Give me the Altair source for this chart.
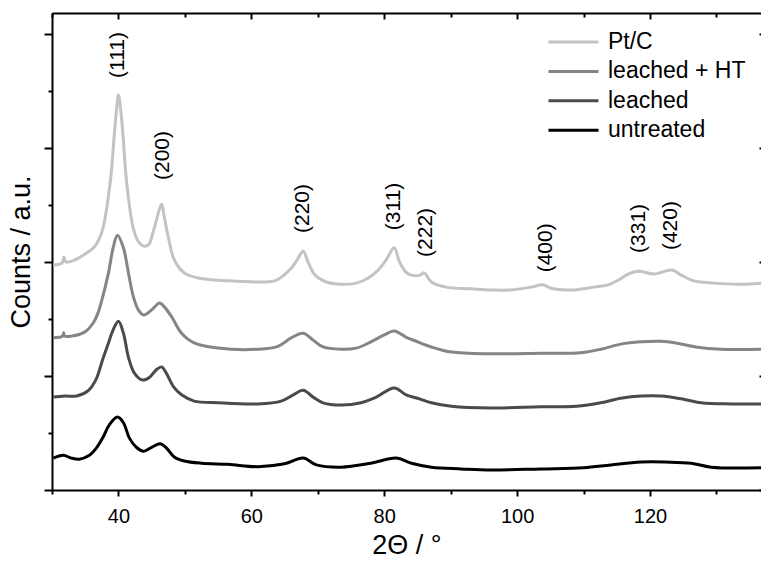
import altair as alt
import pandas as pd

# ---------------- data ----------------
series_names = ["Pt/C", "leached + HT", "leached", "untreated"]
series_colors = ["#c3c3c3", "#858585", "#4a4a4a", "#000000"]

ptc_x = [30.2, 31.5, 31.8, 32.1, 33.5, 34.4, 35.5, 36.4, 37.0, 37.7, 38.8, 39.35, 39.65, 40.0,
         40.4, 40.7, 41.2, 42.2, 43.0, 43.8, 44.5, 45.3, 46.0, 46.5, 46.9, 47.5, 48.4, 49.9,
         52.0, 56.5, 61.0, 63.5, 64.8, 66.0, 66.9, 67.8, 68.6, 69.6, 71.3, 73.5, 75.8, 77.6,
         79.1, 80.3, 81.5, 82.3, 83.3, 84.1, 85.4, 86.0, 87.1, 89.3, 93.1, 96.1, 99.1, 102.1,
         103.9, 105.1, 108.1, 111.6, 113.7, 115.2, 116.7, 118.2, 120.6, 123.3, 124.7, 126.6,
         129.6, 133.7, 136.7]
ptc_y = [3.95, 3.98, 4.09, 4.00, 4.04, 4.10, 4.18, 4.27, 4.38, 4.61, 5.44, 6.20, 6.60, 6.93,
         6.60, 6.20, 5.44, 4.61, 4.36, 4.28, 4.30, 4.56, 4.86, 5.02, 4.79, 4.44, 4.04, 3.81,
         3.72, 3.67, 3.65, 3.67, 3.76, 3.89, 4.04, 4.19, 3.98, 3.77, 3.65, 3.61, 3.63, 3.72,
         3.86, 4.04, 4.25, 4.00, 3.82, 3.77, 3.77, 3.81, 3.65, 3.56, 3.53, 3.51, 3.51, 3.56,
         3.60, 3.54, 3.51, 3.56, 3.60, 3.68, 3.79, 3.84, 3.79, 3.86, 3.77, 3.67,
         3.63, 3.61, 3.63]

ht_x = [30.2, 31.6, 31.75, 31.9, 32.9, 34.9, 36.2, 36.9, 37.5, 38.5, 39.2, 39.85, 40.75, 41.5,
        42.25, 43.0, 43.8, 45.0, 46.2, 47.0, 48.0, 49.5, 51.4, 55.0, 61.0, 64.0, 66.0, 67.8,
        69.3, 70.8, 73.5, 75.8, 78.0, 80.0, 81.5, 83.3, 84.8, 87.1, 90.1, 96.1, 103.6, 109.6,
        112.6, 115.6, 118.6, 121.7, 123.9, 126.9, 130.7, 136.7]
ht_y = [2.67, 2.70, 2.76, 2.70, 2.70, 2.77, 2.93, 3.10, 3.33, 3.81, 4.25, 4.47, 4.25, 3.81,
        3.39, 3.16, 3.07, 3.16, 3.28, 3.20, 3.04, 2.75, 2.58, 2.49, 2.47, 2.52, 2.67, 2.75,
        2.63, 2.51, 2.47, 2.49, 2.60, 2.72, 2.79, 2.68, 2.61, 2.51, 2.42, 2.39, 2.40, 2.41,
        2.47, 2.56, 2.60, 2.61, 2.58, 2.51, 2.47, 2.47]

lch_x = [30.2, 31.9, 33.7, 35.5, 36.7, 37.6, 38.5, 39.2, 40.0, 40.75, 41.5, 42.4, 43.6, 44.7,
         45.7, 46.5, 47.2, 48.3, 49.5, 51.4, 55.0, 61.0, 64.5, 66.3, 67.8, 69.3, 70.8, 73.5,
         76.5, 78.8, 81.5, 83.3, 85.3, 87.1, 90.1, 96.1, 103.6, 108.9, 112.6, 115.6, 118.6,
         121.7, 124.7, 127.7, 132.2, 136.7]
lch_y = [1.63, 1.65, 1.65, 1.75, 1.96, 2.28, 2.58, 2.81, 2.96, 2.75, 2.33, 2.05, 1.93, 1.98,
         2.11, 2.16, 2.05, 1.81, 1.67, 1.56, 1.53, 1.51, 1.56, 1.67, 1.75, 1.63, 1.53, 1.49,
         1.53, 1.63, 1.79, 1.67, 1.60, 1.53, 1.47, 1.44, 1.46, 1.47, 1.53, 1.61, 1.65,
         1.65, 1.60, 1.53, 1.51, 1.51]

unt_x = [30.2, 31.7, 32.9, 34.1, 35.5, 36.7, 37.7, 38.6, 39.85, 40.75, 41.65, 42.7, 43.8, 45.0,
         46.3, 47.2, 48.4, 49.9, 52.5, 56.5, 61.0, 65.0, 67.8, 69.8, 73.5, 78.0, 81.8, 84.1,
         87.1, 91.6, 96.1, 103.6, 110.0, 114.1, 118.6, 122.4, 126.2, 129.2, 136.7]
unt_y = [0.56, 0.61, 0.56, 0.54, 0.60, 0.74, 0.93, 1.14, 1.28, 1.18, 0.91, 0.75, 0.68, 0.75,
         0.81, 0.74, 0.58, 0.51, 0.47, 0.45, 0.41, 0.46, 0.56, 0.44, 0.40, 0.47, 0.56, 0.47,
         0.40, 0.37, 0.35, 0.37, 0.39, 0.44, 0.49, 0.49, 0.47, 0.40, 0.39]

hkl_labels = ["(111)", "(200)", "(220)", "(311)", "(222)", "(400)", "(331)", "(420)"]
hkl_x = [40.0, 46.7, 67.8, 81.5, 86.3, 104.4, 118.3, 123.2]
hkl_y = [7.23, 5.44, 4.51, 4.56, 4.09, 3.82, 4.16, 4.21]

x_ticks = [30, 40, 50, 60, 70, 80, 90, 100, 110, 120, 130]
y_ticks = [0, 1, 2, 3, 4, 5, 6, 7, 8]
y_major = [0, 2, 4, 6, 8]

# ---------------- tables ----------------
frames = []
for name, xs, ys in zip(series_names, [ptc_x, ht_x, lch_x, unt_x], [ptc_y, ht_y, lch_y, unt_y]):
    frames.append(pd.DataFrame({"two_theta": xs, "counts": ys, "sample": name}))
df = pd.concat(frames, ignore_index=True)
labels_df = pd.DataFrame({"hx": hkl_x, "hy": hkl_y, "hkl": hkl_labels})

W, H = 709, 477
FONT = "Liberation Sans"
xscale = alt.Scale(domain=[30, 136.7], nice=False, zero=False)
yscale = alt.Scale(domain=[0, 8.37], nice=False, zero=False)

x_tick_size = {"condition": {"test": "datum.value % 20 === 0", "value": 6}, "value": 4}
y_tick_size = {"condition": {"test": "datum.value % 2 === 0", "value": 8}, "value": 4}

bottom_axis = alt.Axis(orient="bottom", values=x_ticks, tickSize=x_tick_size,
                       labelExpr="datum.value % 20 === 0 ? datum.label : ''",
                       labelOverlap=False, labelFlush=False, labelPadding=10,
                       title="2Θ / °", titlePadding=6, titleFontSize=27, grid=False)
left_axis = alt.Axis(orient="left", values=y_ticks, tickSize=y_tick_size, labels=False,
                     title="Counts / a.u.", titlePadding=8, titleFontSize=27, grid=False)
top_axis = alt.Axis(orient="bottom", offset=-H, values=x_ticks, tickSize=x_tick_size,
                    labels=False, title=None, grid=False)
right_axis = alt.Axis(orient="left", offset=-W, values=y_major, tickSize=2, labels=False,
                      domain=False, title=None, grid=False)

lines = alt.Chart(df).mark_line(strokeWidth=3, interpolate="catmull-rom").encode(
    x=alt.X("two_theta:Q", scale=xscale, axis=bottom_axis),
    y=alt.Y("counts:Q", scale=yscale, axis=left_axis),
    color=alt.Color(
        "sample:N",
        scale=alt.Scale(domain=series_names, range=series_colors),
        legend=alt.Legend(title=None, orient="none", legendX=495, legendY=19,
                          symbolType="stroke", symbolSize=2500, symbolStrokeWidth=3,
                          clipHeight=20, rowPadding=6.4, labelFontSize=23, labelOffset=8,
                          labelFont=FONT, labelColor="black", labelLimit=300, padding=0,
                          direction="vertical"),
    ),
)

peak_labels = alt.Chart(labels_df).mark_text(
    angle=270, align="left", baseline="middle", fontSize=21, font=FONT, color="black"
).encode(
    x=alt.X("hx:Q", scale=xscale, axis=top_axis),
    y=alt.Y("hy:Q", scale=yscale, axis=right_axis),
    text="hkl:N",
)

chart = (
    alt.layer(lines, peak_labels)
    .resolve_axis(x="independent", y="independent")
    .properties(
        width=W,
        height=H,
        autosize=alt.AutoSizeParams(type="none"),
        padding={"left": 52, "top": 13, "right": 0, "bottom": 71},
        background="white",
    )
    .configure_view(strokeWidth=0)
    .configure_axis(
        domainColor="black", domainWidth=2, tickColor="black", tickWidth=2,
        labelFont=FONT, labelFontSize=20, labelColor="black",
        titleFont=FONT, titleFontSize=28, titleFontWeight="normal", titleColor="black",
    )
)

chart.save("out.html", embed_options={"renderer": "svg", "actions": False})
